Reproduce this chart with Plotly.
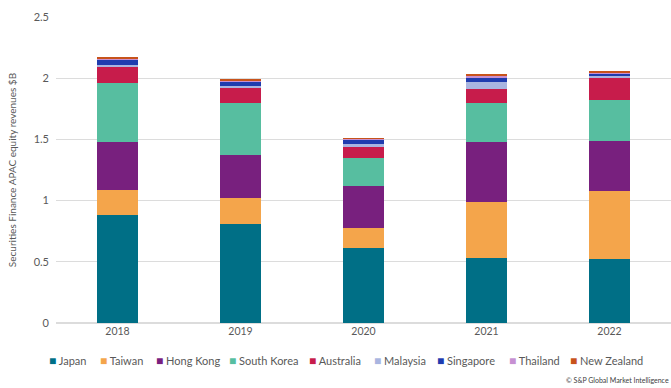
import plotly.graph_objects as go

years = ["2018", "2019", "2020", "2021", "2022"]
japan = [0.88, 0.81, 0.61, 0.53, 0.52]
taiwan = [0.21, 0.21, 0.17, 0.46, 0.56]
hong_kong = [0.39, 0.35, 0.34, 0.49, 0.41]
south_korea = [0.48, 0.43, 0.23, 0.32, 0.33]
australia = [0.13, 0.12, 0.09, 0.11, 0.18]
malaysia = [0.02, 0.02, 0.02, 0.06, 0.02]
singapore = [0.04, 0.03, 0.04, 0.03, 0.02]
thailand = [0.01, 0.01, 0.005, 0.02, 0.01]
new_zealand = [0.01, 0.01, 0.005, 0.01, 0.01]

series = [
    ("Japan", japan, "#006f86"),
    ("Taiwan", taiwan, "#f4a54b"),
    ("Hong Kong", hong_kong, "#78207e"),
    ("South Korea", south_korea, "#57bea0"),
    ("Australia", australia, "#c71c4b"),
    ("Malaysia", malaysia, "#a9b5e0"),
    ("Singapore", singapore, "#1f3caf"),
    ("Thailand", thailand, "#c690d2"),
    ("New Zealand", new_zealand, "#c8531b"),
]
legend_x_px = [47, 98, 154, 227, 307, 372, 435, 507, 568]

fig = go.Figure()
for name, vals, color in series:
    fig.add_trace(go.Bar(x=years, y=vals, name=name, marker_color=color,
                         marker_line_width=0))

L, R, T, B = 56, 0, 17, 65
PW = 671 - L - R
PH = 388 - T - B

annotations = []
for (name, vals, color), px in zip(series, legend_x_px):
    annotations.append(dict(
        text=f'<span style="color:{color};font-size:12px">■</span> {name}',
        xref="paper", yref="paper", x=(px - L) / PW, y=(323 - 360) / PH,
        xanchor="left", yanchor="middle", showarrow=False,
        font=dict(size=11, color="#595959")))
annotations.append(dict(text="© S&P Global Market Intelligence", xref="paper",
                        yref="paper", x=1.0, y=(323 - 380) / PH, xanchor="right",
                        yanchor="middle", showarrow=False,
                        font=dict(size=7, color="#404040")))

font_fam = "Lato, Open Sans, sans-serif"
fig.update_layout(
    barmode="stack",
    bargap=0.67,
    width=671, height=388,
    margin=dict(l=L, r=R, t=T, b=B, autoexpand=False),
    paper_bgcolor="white", plot_bgcolor="white",
    font=dict(family=font_fam, color="#595959", size=10),
    showlegend=False,
    yaxis=dict(range=[0, 2.5], dtick=0.5, showgrid=True, gridcolor="#dcdcdc",
               gridwidth=1, zeroline=True, zerolinecolor="#dcdcdc",
               tickfont=dict(size=11, color="#595959"), ticks="",
               ticklabelstandoff=6,
               title=dict(text="Securities Finance APAC equity revenues $B",
                          font=dict(size=10, color="#595959"), standoff=15)),
    xaxis=dict(showgrid=False, tickfont=dict(size=10.5, color="#595959"),
               showline=False),
    annotations=annotations,
)

fig.write_html("out.html")
